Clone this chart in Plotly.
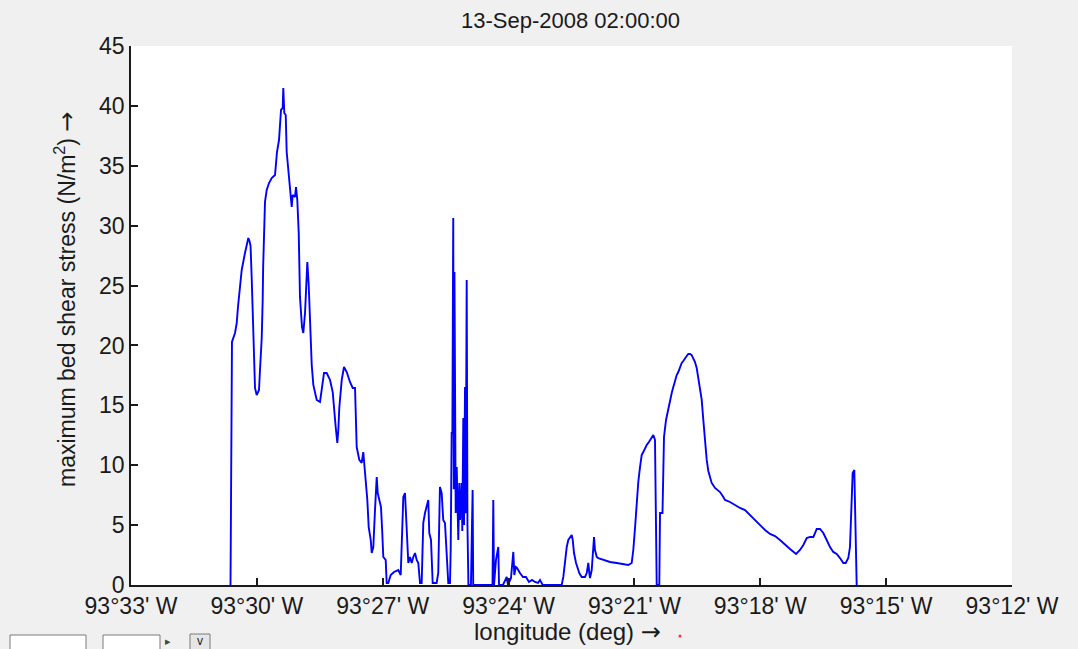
import plotly.graph_objects as go

# Transect of maximum bed shear stress; position given in arc-minutes west of 93°
minutes_west = [
    30.628, 30.616, 30.593, 30.521, 30.480, 30.450, 30.414, 30.361, 30.283, 30.242,
    30.204, 30.175, 30.150, 30.123, 30.085, 30.070, 30.044, 30.004, 29.949, 29.925,
    29.884, 29.861, 29.850, 29.806, 29.765, 29.710, 29.646, 29.567, 29.544, 29.520,
    29.472, 29.424, 29.384, 29.370, 29.346, 29.312, 29.289, 29.250, 29.210, 29.169,
    29.146, 29.091, 29.067, 29.036, 29.002, 28.972, 28.924, 28.893, 28.852, 28.829,
    28.797, 28.764, 28.733, 28.692, 28.654, 28.573, 28.495, 28.454, 28.399, 28.335,
    28.256, 28.192, 28.154, 28.121, 28.082, 28.058, 28.035, 27.977, 27.923, 27.858,
    27.780, 27.715, 27.660, 27.637, 27.620, 27.558, 27.501, 27.463, 27.439, 27.405,
    27.367, 27.334, 27.286, 27.262, 27.224, 27.184, 27.143, 27.119, 27.088, 27.041,
    27.010, 26.986, 26.929, 26.905, 26.867, 26.810, 26.731, 26.628, 26.571, 26.547,
    26.509, 26.469, 26.428, 26.390, 26.350, 26.309, 26.271, 26.230, 26.190, 26.152,
    26.111, 26.071, 26.057, 26.033, 25.992, 25.952, 25.914, 25.890, 25.849, 25.809,
    25.715, 25.676, 25.636, 25.595, 25.557, 25.516, 25.475, 25.437, 25.396, 25.380,
    25.356, 25.340, 25.319, 25.305, 25.290, 25.260, 25.236, 25.198, 25.174, 25.157,
    25.117, 25.103, 25.079, 25.062, 25.038, 25.022, 24.998, 24.980, 24.957, 24.897,
    24.857, 24.843, 24.383, 24.364, 24.347, 24.300, 24.245, 24.228, 24.133, 24.085,
    24.044, 24.014, 23.942, 23.887, 23.863, 23.830, 23.799, 23.728, 23.656, 23.585,
    23.514, 23.442, 23.371, 23.299, 23.251, 23.186, 22.734, 22.695, 22.655, 22.614,
    22.576, 22.536, 22.495, 22.471, 22.440, 22.392, 22.361, 22.314, 22.257, 22.178,
    22.137, 22.099, 22.075, 22.059, 22.018, 21.995, 21.963, 21.940, 21.899, 21.861,
    21.742, 21.582, 21.422, 21.265, 21.146, 21.065, 21.027, 20.986, 20.946, 20.908,
    20.867, 20.827, 20.789, 20.748, 20.708, 20.669, 20.629, 20.588, 20.550, 20.510,
    20.486, 20.469, 20.407, 20.390, 20.331, 20.295, 20.247, 20.192, 20.152, 20.111,
    20.073, 20.033, 19.992, 19.954, 19.913, 19.873, 19.835, 19.794, 19.754, 19.716,
    19.675, 19.635, 19.597, 19.556, 19.516, 19.477, 19.437, 19.396, 19.358, 19.318,
    19.277, 19.239, 19.158, 19.079, 18.960, 18.881, 18.841, 18.722, 18.602, 18.483,
    18.364, 18.245, 18.126, 18.007, 17.887, 17.768, 17.649, 17.530, 17.410, 17.291,
    17.148, 17.053, 16.974, 16.893, 16.814, 16.736, 16.695, 16.655, 16.576, 16.498,
    16.417, 16.338, 16.260, 16.178, 16.100, 16.021, 15.964, 15.902, 15.862, 15.821,
    15.798, 15.759, 15.726, 15.702,
]

max_bed_shear = [
    0.00, 10.02, 20.29, 21.04, 21.87, 23.21, 24.63, 26.30, 27.72, 28.55,
    28.97, 28.72, 28.30, 25.63, 21.29, 20.20, 16.45, 15.86, 16.28, 17.95,
    20.62, 23.79, 26.55, 31.98, 32.98, 33.56, 33.98, 34.23, 35.23, 36.15,
    37.15, 39.66, 39.83, 41.49, 39.41, 39.24, 36.15, 34.65, 32.73, 31.56,
    32.56, 32.40, 33.23, 32.14, 29.39, 24.05, 21.54, 21.04, 22.71, 25.05,
    26.97, 25.05, 21.54, 18.37, 16.70, 15.45, 15.28, 16.53, 17.70, 17.70,
    17.12, 16.11, 14.86, 13.19, 11.86, 12.94, 14.78, 17.12, 18.20, 17.78,
    16.95, 16.45, 16.45, 14.36, 11.52, 10.44, 10.19, 11.10, 10.19, 8.60,
    7.10, 4.84, 3.76, 2.67, 3.17, 6.26, 9.02, 7.68, 7.10, 6.51,
    4.34, 2.34, 2.09, 0.17, 0.17, 0.83, 1.09, 1.25, 0.83, 4.01,
    7.35, 7.68, 4.01, 1.84, 2.34, 1.84, 2.34, 2.67, 2.09, 1.84,
    0.17, 0.17, 2.09, 5.18, 6.01, 6.51, 7.10, 4.34, 3.76, 0.17,
    0.17, 1.00, 8.18, 7.68, 5.43, 5.18, 2.67, 0.17, 0.17, 2.92,
    12.69, 12.69, 30.64, 8.00, 26.13, 6.01, 9.85, 3.76, 8.52, 5.43,
    8.52, 4.50, 13.94, 5.00, 16.53, 6.00, 25.46, 5.00, 0.00, 0.00,
    7.93, 0.00, 0.00, 7.10, 0.00, 2.09, 3.17, 0.00, 0.00, 0.42,
    0.67, 0.00, 0.58, 2.76, 0.83, 1.50, 1.42, 1.00, 0.67, 0.67,
    0.25, 0.42, 0.25, 0.17, 0.42, 0.00, 0.00, 0.67, 2.09, 3.17,
    3.76, 4.01, 4.17, 3.76, 2.67, 1.84, 1.50, 1.00, 0.67, 0.67,
    1.00, 1.84, 1.00, 0.58, 1.25, 2.34, 4.01, 2.92, 2.34, 2.25,
    2.09, 1.92, 1.84, 1.75, 1.67, 1.84, 2.92, 4.76, 6.85, 8.60,
    9.85, 10.85, 11.10, 11.44, 11.69, 11.86, 12.11, 12.36, 12.52, 12.11,
    6.01, 0.00, 0.00, 6.01, 6.01, 12.36, 13.78, 14.78, 15.45, 16.03,
    16.53, 17.12, 17.53, 17.78, 18.20, 18.54, 18.70, 18.95, 19.12, 19.29,
    19.29, 19.20, 18.95, 18.62, 18.12, 17.28, 16.28, 15.45, 13.78, 11.86,
    10.44, 9.52, 8.52, 8.10, 7.76, 7.35, 7.10, 6.93, 6.68, 6.43,
    6.26, 5.84, 5.43, 5.01, 4.59, 4.26, 4.09, 3.76, 3.34, 3.01,
    2.59, 2.92, 3.34, 3.92, 4.01, 4.01, 4.34, 4.68, 4.68, 4.34,
    3.76, 3.17, 2.76, 2.59, 2.25, 1.84, 1.84, 2.25, 3.17, 6.68,
    9.35, 9.60, 4.76, 0.00,
]

tick_minutes = [33, 30, 27, 24, 21, 18, 15, 12]
tick_labels = [f"93°{m}' W" for m in tick_minutes]
y_tick_values = [0, 5, 10, 15, 20, 25, 30, 35, 40, 45]

ARROW = '<span style="font-family:DejaVu Sans;font-size:24px">→</span>'
title_text = "13-Sep-2008 02:00:00"
x_title = "longitude (deg) " + ARROW
y_title = "maximum bed shear stress (N/m<sup>2</sup>) " + ARROW

longitude = [-(93 + m / 60) for m in minutes_west]
tick_positions = [-(93 + m / 60) for m in tick_minutes]

# page geometry (pixels)
W, H = 1078, 649
L, R, T, B = 131, 66, 46, 64
PW, PH = W - L - R, H - T - B


def px(x):
    return (x - L) / PW


def py(y):
    return (H - B - y) / PH


FONT = "Liberation Sans, Arial, sans-serif"
INK = "#1a1a1a"

fig = go.Figure(
    go.Scatter(
        x=longitude,
        y=max_bed_shear,
        mode="lines",
        line=dict(color="#0000ff", width=1.9),
        hoverinfo="skip",
    )
)

axis_common = dict(
    ticks="inside",
    ticklen=7,
    tickwidth=1.5,
    tickcolor=INK,
    showline=True,
    linecolor=INK,
    linewidth=1.5,
    mirror=False,
    showgrid=False,
    zeroline=False,
    tickfont=dict(family=FONT, size=23, color=INK),
)

fig.update_layout(
    width=W,
    height=H,
    margin=dict(l=L, r=R, t=T, b=B, pad=0),
    paper_bgcolor="#f0f0f0",
    plot_bgcolor="#ffffff",
    showlegend=False,
    font=dict(family=FONT, size=23, color=INK),
    xaxis=dict(range=[-93.55, -93.2], tickvals=tick_positions,
               ticktext=tick_labels, **axis_common),
    yaxis=dict(range=[0, 45], tickvals=y_tick_values, **axis_common),
)

annotations = [
    dict(text=title_text, x=px(570), y=py(20), font=dict(size=22)),
    dict(text=x_title, x=px(567), y=py(632), font=dict(size=24)),
    dict(text=y_title, x=px(65), y=py(300), textangle=-90, font=dict(size=23)),
    dict(text="v", x=px(200), y=py(641), font=dict(size=12)),
    dict(text="▸", x=px(168), y=py(641), font=dict(size=11, color="#444444")),
]
for a in annotations:
    a.update(xref="paper", yref="paper", showarrow=False,
             xanchor="center", yanchor="middle")
fig.update_layout(annotations=annotations)

# small control boxes along the lower-left edge and the marker dot after the x label
shapes = [
    dict(type="rect", x0=px(10), x1=px(86), y0=py(655), y1=py(635),
         line=dict(color="#7a7a7a", width=1), fillcolor="#ffffff"),
    dict(type="rect", x0=px(103), x1=px(160), y0=py(655), y1=py(635),
         line=dict(color="#7a7a7a", width=1), fillcolor="#ffffff"),
    dict(type="rect", x0=px(190), x1=px(210), y0=py(655), y1=py(634),
         line=dict(color="#7a7a7a", width=1), fillcolor="#e6e6e6"),
    dict(type="circle", x0=px(678.5), x1=px(681.5), y0=py(637.5), y1=py(634.5),
         line=dict(color="#ff0000", width=0), fillcolor="#ff3030"),
]
for s in shapes:
    s.update(xref="paper", yref="paper", layer="above")
fig.update_layout(shapes=shapes)

fig.write_html("out.html")
